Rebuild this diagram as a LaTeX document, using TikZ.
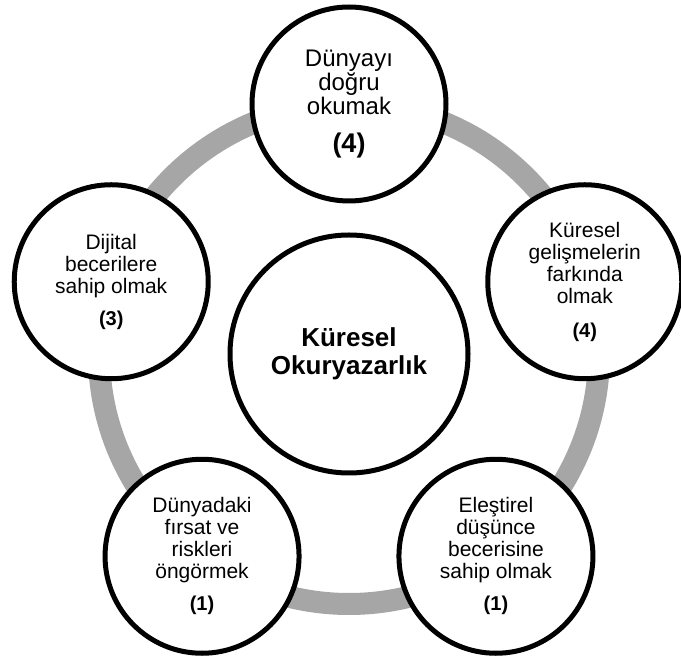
\documentclass[tikz,border=0pt]{standalone}
\usepackage{fontspec}
\setmainfont{Liberation Sans}
\usetikzlibrary{calc}
\definecolor{halka}{HTML}{A6A6A6}
\newcommand{\puan}[1]{{\bfseries\fontsize{20}{22}\selectfont (#1)}}
\tikzset{cember/.style={
    draw=halka,
    line width=22pt}}
\tikzset{merkez/.style={
    draw=black,
    line width=5pt,
    circle,
    fill=white,
    minimum size=238pt,
    inner sep=0pt,
    align=center,
    font=\bfseries\fontsize{26}{28}\selectfont}}
\tikzset{beceri/.style={
    draw=black,
    line width=5pt,
    circle,
    fill=white,
    minimum size=194pt,
    inner sep=0pt,
    align=center,
    font=\fontsize{21}{22}\selectfont}}

\begin{document}
\begin{tikzpicture}[x=1pt,y=1pt]
\useasboundingbox (0,0) rectangle (681,662);
	\coordinate (O) at (349,308);
\coordinate (A) at ($(O)+(90:250)$);
\coordinate (B) at ($(O)+(18:250)$);
\coordinate (C) at ($(O)+(-54:250)$);
\coordinate (D) at ($(O)+(-126:250)$);
\coordinate (E) at ($(O)+(162:250)$);

\path[cember] (O) circle (250);

\node[merkez] (okur) at (O) {Küresel\\Okuryazarlık};

	\node[beceri,font=\fontsize{24}{24}\selectfont] (dunya) at (A)
  {Dünyayı\\doğru\\okumak\\[14pt]{\bfseries\fontsize{27}{27}\selectfont (4)}};
	\node[beceri] (kuresel) at ($(B)+(-2,-5)$)
  {Küresel\\gelişmelerin\\farkında\\olmak\\[12pt]\puan{4}};
	\node[beceri] (elestirel) at (C)
  {Eleştirel\\düşünce\\becerisine\\sahip olmak\\[10pt]\puan{1}};
	\node[beceri] (firsat) at (D)
  {Dünyadaki\\fırsat ve\\riskleri\\öngörmek\\[10pt]\puan{1}};
	\node[beceri] (dijital) at ($(E)+(0,-5)$)
  {Dijital\\becerilere\\sahip olmak\\[10pt]\puan{3}};
\end{tikzpicture}
\end{document}
